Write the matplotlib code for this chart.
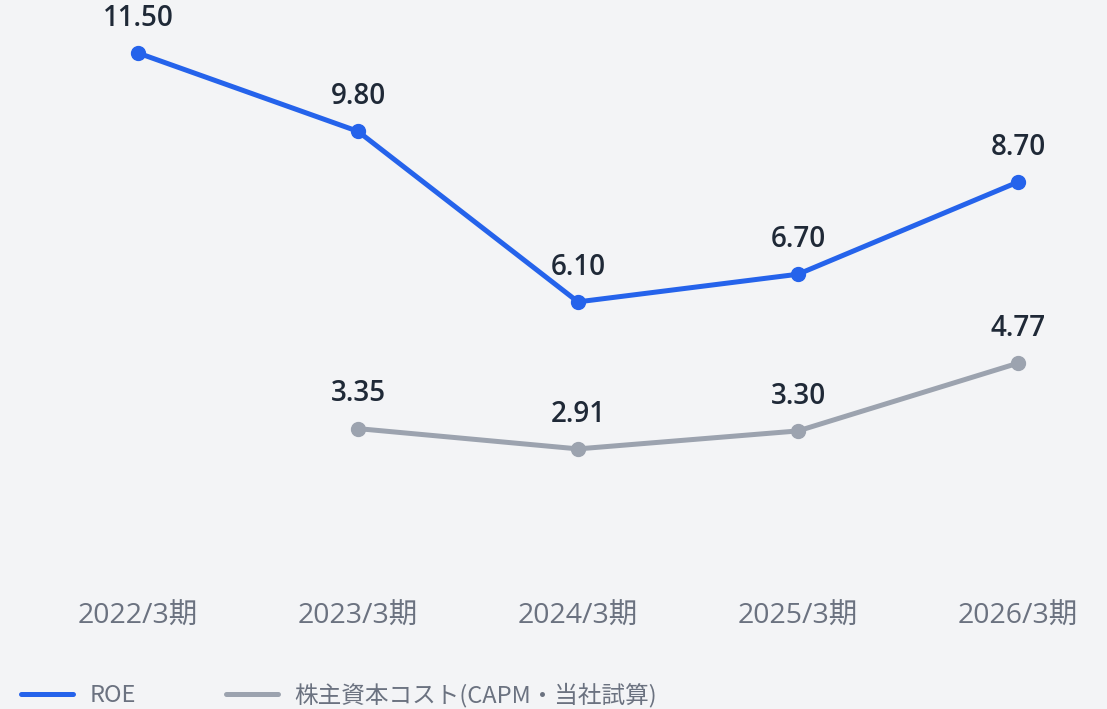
import numpy as np
import matplotlib.pyplot as plt

plt.rcParams['font.family'] = ['Noto Sans CJK JP', 'DejaVu Sans']
NUM_FONT = ['Open Sans', 'Noto Sans CJK JP']

# data
periods = ["2022/3期", "2023/3期", "2024/3期", "2025/3期", "2026/3期"]
roe = [11.50, 9.80, 6.10, 6.70, 8.70]
coe = [np.nan, 3.35, 2.91, 3.30, 4.77]
roe_label = "ROE"
coe_label = "株主資本コスト(CAPM・当社試算)"

BG = "#f3f4f6"
BLUE = "#2563eb"
GRAY = "#9ca3af"
TXT = "#1f2937"
TICK = "#6b7280"

fig = plt.figure(figsize=(11.07, 7.09), dpi=100, facecolor=BG)
ax = fig.add_axes([0, 0.1777, 1, 0.8223])
ax.set_facecolor(BG)

x = np.arange(len(periods))
l1, = ax.plot(x, roe, color=BLUE, lw=3.6, marker="o", ms=10, label=roe_label,
              solid_capstyle="round", zorder=3)
l2, = ax.plot(x, coe, color=GRAY, lw=3.6, marker="o", ms=10, label=coe_label,
              solid_capstyle="round", zorder=3)

# value labels above each point
for series in (roe, coe):
    for xi, v in zip(x, series):
        if np.isnan(v):
            continue
        ax.annotate(f"{v:.2f}", (xi, v), xytext=(0, 25), textcoords="offset points",
                    ha="center", va="center", fontsize=20, color=TXT,
                    fontweight="semibold", family=NUM_FONT)

ax.set_xlim(-138 / 220, (1107 - 138) / 220)
ax.set_ylim(0, 12.65)
ax.set_xticks(x)
ax.set_xticklabels(periods, fontsize=20.5, color=TICK, family=NUM_FONT)
ax.tick_params(axis="x", length=0, pad=14)
ax.set_yticks([])
for s in ax.spines.values():
    s.set_visible(False)

fig.legend(handles=[l1, l2], loc="center left", bbox_to_anchor=(0.0, 0.02),
           ncol=2, frameon=False, fontsize=17, labelcolor=TICK,
           handlelength=2.2, handletextpad=0.7, columnspacing=3.8,
           markerscale=0)

fig.savefig("out.png", dpi=100, facecolor=BG)
